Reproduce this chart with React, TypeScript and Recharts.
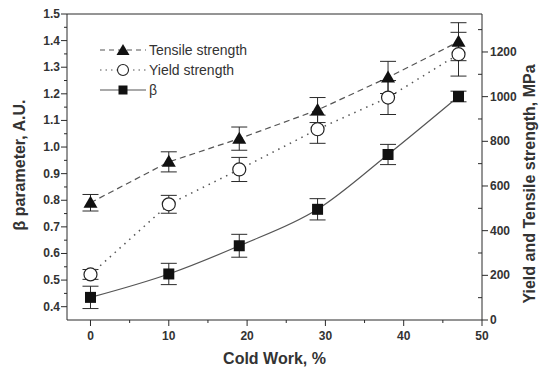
import { ComposedChart, Line, XAxis, YAxis, ErrorBar, ReferenceLine } from 'recharts'

const coldWork = [0, 10, 19, 29, 38, 47]
const tensile = [525, 708, 812, 940, 1086, 1246]
const tensileErr = [37, 45, 52, 56, 72, 85]
const yieldStr = [204, 518, 674, 854, 996, 1190]
const yieldErr = [22, 40, 54, 63, 76, 98]
const beta = [0.435, 0.523, 0.629, 0.766, 0.972, 1.19]
const betaErr = [0.042, 0.04, 0.043, 0.04, 0.038, 0.02]

const xMajor = [0, 10, 20, 30, 40, 50]
const xMinor = [5, 15, 25, 35, 45]
const leftMajor = [0.4, 0.5, 0.6, 0.7, 0.8, 0.9, 1.0, 1.1, 1.2, 1.3, 1.4, 1.5]
const leftMinor = [0.45, 0.55, 0.65, 0.75, 0.85, 0.95, 1.05, 1.15, 1.25, 1.35, 1.45]
const rightMajor = [0, 200, 400, 600, 800, 1000, 1200]
const rightMinor = [100, 300, 500, 700, 900, 1100, 1300]

const data = coldWork.map((x, i) => ({
  x,
  ts: tensile[i], tsErr: tensileErr[i],
  ys: yieldStr[i], ysErr: yieldErr[i],
  beta: beta[i], betaErr: betaErr[i],
}))

const INK = '#2a2a2a'
const LINE = '#555'
const FONT = "'Liberation Sans', Arial, sans-serif"
const tickText = { fontFamily: FONT, fontSize: 12, fontWeight: 700, fill: '#333' }
const titleText = { fontFamily: FONT, fontSize: 16, fontWeight: 700, fill: '#333' }

const isIn = (arr: number[], v: number) => arr.some((a) => Math.abs(a - v) < 1e-6)

const XTick = ({ x, y, payload }: any) => {
  const major = isIn(xMajor, payload.value)
  return (
    <g>
      <line x1={x} x2={x} y1={y} y2={y + (major ? 6 : 3)} stroke={INK} />
      {major && <text x={x} y={y + 20} textAnchor="middle" style={tickText}>{payload.value}</text>}
    </g>
  )
}

const LeftTick = ({ x, y, payload }: any) => {
  const major = isIn(leftMajor, payload.value)
  return (
    <g>
      <line x1={x} x2={x - (major ? 6 : 3)} y1={y} y2={y} stroke={INK} />
      {major && <text x={x - 7} y={y + 4} textAnchor="end" style={tickText}>{payload.value.toFixed(1)}</text>}
    </g>
  )
}

const RightTick = ({ x, y, payload }: any) => {
  const major = isIn(rightMajor, payload.value)
  return (
    <g>
      {major
        ? <line x1={x} x2={x + 6} y1={y} y2={y} stroke={INK} />
        : <line x1={x} x2={x - 4} y1={y} y2={y} stroke={INK} />}
      {major && <text x={x + 8} y={y + 4} textAnchor="start" style={tickText}>{payload.value}</text>}
    </g>
  )
}

const Triangle = ({ cx, cy }: any) =>
  cx == null ? null : <polygon points={`${cx},${cy - 7} ${cx - 7},${cy + 5} ${cx + 7},${cy + 5}`} fill="#111" />
const Circle = ({ cx, cy }: any) =>
  cx == null ? null : <circle cx={cx} cy={cy} r={6.5} fill="#fff" stroke="#222" strokeWidth={1.2} />
const Square = ({ cx, cy }: any) =>
  cx == null ? null : <rect x={cx - 5.5} y={cy - 5.5} width={11} height={11} fill="#111" />

function LegendRow({ dash, marker, label }: { dash?: string; marker: 'tri' | 'circ' | 'sq'; label: string }) {
  return (
    <div style={{ display: 'flex', alignItems: 'center', height: 20 }}>
      <svg width={46} height={14}>
        <line x1={0} x2={46} y1={7} y2={7} stroke={LINE} strokeWidth={1.2} strokeDasharray={dash} />
        {marker === 'tri' && <polygon points="23,1 16.5,12 29.5,12" fill="#111" />}
        {marker === 'circ' && <circle cx={23} cy={7} r={5.5} fill="#fff" stroke="#222" strokeWidth={1.1} />}
        {marker === 'sq' && <rect x={18.5} y={2.5} width={9} height={9} fill="#111" />}
      </svg>
      <span style={{ marginLeft: 3, fontFamily: FONT, fontSize: 14, color: '#333' }}>{label}</span>
    </div>
  )
}

export default function App() {
  return (
    <div style={{ position: 'fixed', left: 0, top: 0, width: 544, height: 368, background: '#fff' }}>
      <ComposedChart width={544} height={368} data={data} margin={{ top: 14, right: 0, bottom: 0, left: 0 }}>
        <XAxis
          dataKey="x" type="number" domain={[-3, 50]} ticks={[...xMajor, ...xMinor]} interval={0}
          tickSize={0} tickMargin={0} tick={<XTick />} axisLine={{ stroke: INK }} height={48}
          label={{ value: 'Cold Work, %', position: 'insideBottom', offset: 4, style: titleText }}
        />
        <YAxis
          yAxisId="left" type="number" domain={[0.35, 1.5]} ticks={[...leftMajor, ...leftMinor]} interval={0}
          tickSize={0} tickMargin={0} tick={<LeftTick />} axisLine={{ stroke: INK }} width={67}
          label={{ value: 'β parameter, A.U.', angle: -90, position: 'insideLeft', dx: 14, dy: -2, style: { ...titleText, textAnchor: 'middle' } }}
        />
        <YAxis
          yAxisId="right" orientation="right" type="number" domain={[0, 1370]} ticks={[...rightMajor, ...rightMinor]} interval={0}
          tickSize={0} tickMargin={0} tick={<RightTick />} axisLine={{ stroke: INK }} width={62}
          label={{ value: 'Yield and Tensile strength, MPa', angle: -90, position: 'insideRight', dx: -10, dy: 17, style: { ...titleText, textAnchor: 'middle' } }}
        />
        <ReferenceLine yAxisId="left" y={1.5} stroke={INK} />
        <Line yAxisId="right" dataKey="ts" type="linear" stroke={LINE} strokeWidth={1.2} strokeDasharray="6 4"
          dot={<Triangle />} activeDot={false} isAnimationActive={false}>
          <ErrorBar dataKey="tsErr" width={8} stroke={INK} strokeWidth={1} direction="y" />
        </Line>
        <Line yAxisId="right" dataKey="ys" type="linear" stroke={LINE} strokeWidth={1.5} strokeDasharray="1.5 5"
          dot={<Circle />} activeDot={false} isAnimationActive={false}>
          <ErrorBar dataKey="ysErr" width={8} stroke={INK} strokeWidth={1} direction="y" />
        </Line>
        <Line yAxisId="left" dataKey="beta" type="monotone" stroke={LINE} strokeWidth={1.2}
          dot={<Square />} activeDot={false} isAnimationActive={false}>
          <ErrorBar dataKey="betaErr" width={8} stroke={INK} strokeWidth={1} direction="y" />
        </Line>
      </ComposedChart>
      <div style={{ position: 'absolute', left: 100, top: 40 }}>
        <LegendRow dash="5 4" marker="tri" label="Tensile strength" />
        <LegendRow dash="1.5 4" marker="circ" label="Yield strength" />
        <LegendRow marker="sq" label="β" />
      </div>
    </div>
  )
}
